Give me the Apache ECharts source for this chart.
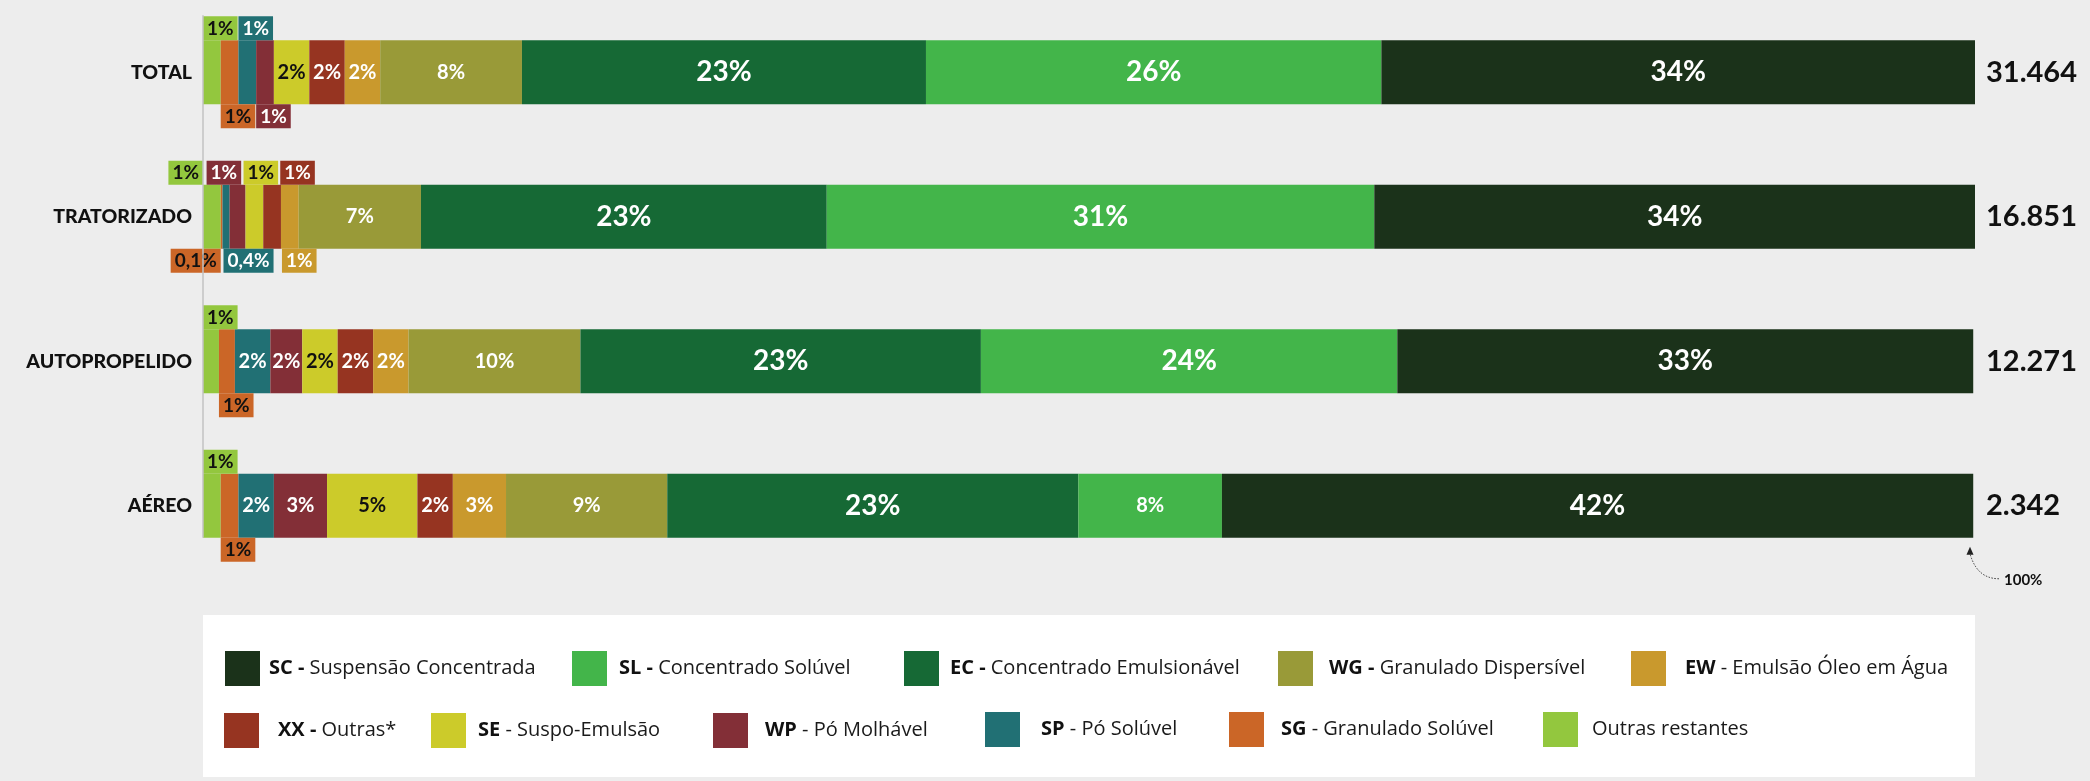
<!DOCTYPE html>
<html>
<head>
<meta charset="utf-8">
<script src="https://cdn.jsdelivr.net/npm/echarts@6/dist/echarts.min.js"></script>
<style>
  html, body { margin: 0; padding: 0; background: #ededed; }
  #chart { width: 2090px; height: 781px; }
</style>
</head>
<body>
<div id="chart"></div>
<script>
// Application equipment categories and number of applications per category
const categories = ['TOTAL', 'TRATORIZADO', 'AUTOPROPELIDO', 'AÉREO'];
const totals = [31464, 16851, 12271, 2342];

// Share (%) of each formulation type, in stacking order from left to right
const outrasRestantes = [1.0, 1.0, 0.9, 1.0];
const sg = [1.0, 0.1, 0.9, 1.0];
const sp = [1.0, 0.4, 2.0, 2.0];
const wp = [1.0, 0.9, 1.8, 3.0];
const se = [2.0, 1.0, 2.0, 5.1];
const xx = [2.0, 1.0, 2.0, 2.0];
const ew = [2.0, 1.0, 2.0, 3.0];
const wg = [8.0, 6.9, 9.7, 9.1];
const ec = [22.8, 22.9, 22.6, 23.2];
const sl = [25.7, 30.9, 23.5, 8.1];
const sc = [33.5, 33.9, 32.5, 42.4];

const seriesData = {
  'Outras restantes': outrasRestantes, SG: sg, SP: sp, WP: wp, SE: se,
  XX: xx, EW: ew, WG: wg, EC: ec, SL: sl, SC: sc
};
const stackOrder = ['Outras restantes', 'SG', 'SP', 'WP', 'SE', 'XX', 'EW', 'WG', 'EC', 'SL', 'SC'];

const legendText = {
  SC: 'Suspensão Concentrada', SL: 'Concentrado Solúvel', EC: 'Concentrado Emulsionável',
  WG: 'Granulado Dispersível', EW: 'Emulsão Óleo em Água', XX: 'Outras*',
  SE: 'Suspo-Emulsão', WP: 'Pó Molhável', SP: 'Pó Solúvel', SG: 'Granulado Solúvel',
  'Outras restantes': 'Outras restantes'
};

// Fill colour and label text colour per formulation
const palette = {
  SC: ['#1b321a', '#ffffff'], SL: ['#43b54a', '#ffffff'], EC: ['#166935', '#ffffff'],
  WG: ['#999a38', '#ffffff'], EW: ['#c9992d', '#ffffff'], XX: ['#963421', '#ffffff'],
  SE: ['#cccb2a', '#111111'], WP: ['#832f37', '#ffffff'], SP: ['#217074', '#ffffff'],
  SG: ['#cb6627', '#111111'], 'Outras restantes': ['#93c73e', '#111111']
};

// Narrow segments get a tag above or below the bar: [series, row, side, shift px, anchor edge]
const outsideTags = [
  ['Outras restantes', 0, 'top', 0, 'left'], ['SP', 0, 'top', 0, 'left'],
  ['SG', 0, 'bottom', 0, 'left'], ['WP', 0, 'bottom', 0, 'left'],
  ['Outras restantes', 1, 'top', 0, 'right'], ['WP', 1, 'top', -23, 'left'],
  ['SE', 1, 'top', -2, 'left'], ['XX', 1, 'top', 17, 'left'],
  ['SG', 1, 'bottom', 0, 'right'], ['SP', 1, 'bottom', 1, 'left'], ['EW', 1, 'bottom', 1, 'left'],
  ['Outras restantes', 2, 'top', 0, 'left'], ['SG', 2, 'bottom', 0, 'left'],
  ['Outras restantes', 3, 'top', 0, 'left'], ['SG', 3, 'bottom', 0, 'left']
];

// Legend entries: [series, left, top, gap between swatch and text, bold dash]
const legendLayout = [
  ['SC', 225, 651, 9, true], ['SL', 572, 651, 12, true], ['EC', 904, 651, 11, true],
  ['WG', 1278, 651, 16, true], ['EW', 1631, 651, 19, false],
  ['XX', 224, 713, 19, true], ['SE', 431, 713, 12, false], ['WP', 713, 713, 17, false],
  ['SP', 985, 712, 21, false], ['SG', 1229, 712, 17, false], ['Outras restantes', 1543, 712, 14, false]
];

const FONT = 'Lato, "Open Sans", sans-serif';
const LEGEND_FONT = '"Open Sans", Lato, sans-serif';

function pct(v) {
  if (v < 0.5) return v.toFixed(1).replace('.', ',') + '%';
  return Math.round(v) + '%';
}
function thousands(n) {
  return String(n).replace(/\B(?=(\d{3})+(?!\d))/g, '.');
}

const series = stackOrder.map(function (name) {
  const fill = palette[name][0];
  const ink = palette[name][1];
  const data = seriesData[name].map(function (v, row) {
    const tag = outsideTags.find(function (t) { return t[0] === name && t[1] === row; });
    const item = { value: v };
    if (tag) {
      item.label = {
        position: [tag[3], tag[2] === 'top' ? 0 : '100%'],
        align: tag[4],
        verticalAlign: tag[2] === 'top' ? 'bottom' : 'top',
        backgroundColor: fill,
        padding: [2, 4, 1, 4],
        lineHeight: 21,
        fontSize: 19
      };
    } else if (v >= 20) {
      item.label = { fontSize: 28 };
    }
    return item;
  });
  return {
    name: name,
    type: 'bar',
    stack: 'share',
    barWidth: 64,
    itemStyle: { color: fill },
    label: {
      show: true,
      position: 'inside',
      color: ink,
      fontFamily: FONT,
      fontWeight: 'bold',
      fontSize: 20,
      formatter: function (p) { return pct(p.value); }
    },
    data: data
  };
});

const legends = legendLayout.map(function (l) {
  const name = l[0];
  let text;
  if (name === 'Outras restantes') text = '{g|}{n|Outras restantes}';
  else if (l[4]) text = '{g|}{b|' + name + ' -}{n| ' + legendText[name] + '}';
  else text = '{g|}{b|' + name + '}{n| - ' + legendText[name] + '}';
  return {
    data: [name],
    left: l[1],
    top: l[2],
    padding: 0,
    icon: 'rect',
    itemWidth: 35,
    itemHeight: 35,
    selectedMode: false,
    formatter: function () { return text; },
    textStyle: {
      fontFamily: LEGEND_FONT,
      fontSize: 20,
      color: '#1a1a1a',
      rich: {
        g: { width: l[3] - 5 },
        b: { fontFamily: LEGEND_FONT, fontSize: 20, fontWeight: 'bold', color: '#111' },
        n: { fontFamily: LEGEND_FONT, fontSize: 20, color: '#1a1a1a' }
      }
    }
  };
});

const chart = echarts.init(document.getElementById('chart'), null, { renderer: 'canvas' });

const option = {
  backgroundColor: '#ededed',
  animation: false,
  grid: { left: 203, right: 115, top: 0, height: 578 },
  xAxis: { type: 'value', min: 0, max: 100, show: false },
  yAxis: [
    {
      type: 'category', inverse: true, data: categories,
      axisLine: { show: false }, axisTick: { show: false },
      axisLabel: { margin: 11, fontFamily: FONT, fontWeight: 900, fontSize: 19.5, color: '#111' }
    },
    {
      type: 'category', inverse: true, data: categories, position: 'right',
      axisLine: { show: false }, axisTick: { show: false },
      axisLabel: {
        margin: 11, fontFamily: FONT, fontWeight: 'bold', fontSize: 29, color: '#111',
        formatter: function (v, i) { return thousands(totals[i]); }
      }
    }
  ],
  legend: legends,
  series: series
};
chart.setOption(option);

// Legend panel, baseline axis and the 100% pointer are placed from the axis scales
const x0 = chart.convertToPixel({ xAxisIndex: 0 }, 0);
const x100 = chart.convertToPixel({ xAxisIndex: 0 }, 100);
const yFirst = chart.convertToPixel({ yAxisIndex: 0 }, categories[0]);
const yLast = chart.convertToPixel({ yAxisIndex: 0 }, categories[categories.length - 1]);
const half = 32;
const tipY = yLast + half + 9;

chart.setOption({
  graphic: [
    { type: 'rect', z: -10, silent: true,
      shape: { x: x0, y: 615, width: x100 - x0, height: 162 },
      style: { fill: '#ffffff' } },
    { type: 'line', z: 10, silent: true,
      shape: { x1: x0, y1: yFirst - half - 25, x2: x0, y2: yLast + half },
      style: { stroke: '#c2c2c2', lineWidth: 1.5 } },
    { type: 'bezierCurve', z: 10, silent: true,
      shape: { x1: x100 + 24, y1: tipY + 32, x2: x100 - 5, y2: tipY + 7, cpx1: x100 + 2, cpy1: tipY + 32 },
      style: { stroke: '#333', lineWidth: 1, lineDash: [1.5, 1.5], fill: null } },
    { type: 'polygon', z: 10, silent: true,
      shape: { points: [[x100 - 5, tipY], [x100 - 8.5, tipY + 8], [x100 - 1.5, tipY + 8]] },
      style: { fill: '#222' } },
    { type: 'text', z: 10, silent: true,
      x: x100 + 29, y: tipY + 33,
      style: { text: '100%', fill: '#111', font: 'bold 15px ' + FONT, verticalAlign: 'middle' } }
  ]
});
</script>
</body>
</html>
